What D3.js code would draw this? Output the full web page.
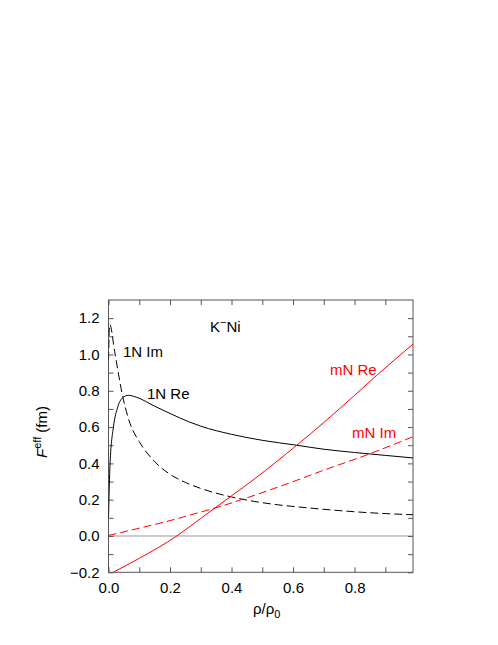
<!DOCTYPE html>
<html>
<head>
<meta charset="utf-8">
<script src="https://cdn.jsdelivr.net/npm/d3@7"></script>
<style>
  body { margin: 0; background: #fff; }
  #plot { width: 498px; height: 645px; }
  text { font-family: "Liberation Sans", Arial, Helvetica, sans-serif; }
</style>
</head>
<body>
<div id="plot"></div>
<script>
// curves (x = rho/rho0, y = F eff in fm)
const re1N_x = [0, 0.005, 0.016, 0.03, 0.045, 0.064, 0.09, 0.15, 0.2, 0.26, 0.3, 0.4, 0.5, 0.612, 0.7, 0.8, 0.9, 0.99];
const re1N_y = [0.10, 0.40, 0.60, 0.71, 0.76, 0.775, 0.765, 0.715, 0.675, 0.63, 0.605, 0.56, 0.527, 0.50, 0.478, 0.46, 0.444, 0.43];

const im1N_x = [0, 0.004, 0.021, 0.046, 0.07, 0.1, 0.15, 0.2, 0.25, 0.3, 0.4, 0.476, 0.55, 0.655, 0.75, 0.85, 0.99];
const im1N_y = [0.97, 1.165, 1.005, 0.77, 0.62, 0.52, 0.41, 0.34, 0.295, 0.262, 0.215, 0.19, 0.172, 0.154, 0.14, 0.128, 0.117];

const reMN_x = [0.015, 0.1, 0.222, 0.3, 0.395, 0.476, 0.612, 0.7, 0.8, 0.872, 0.99];
const reMN_y = [-0.2, -0.123, 0, 0.097, 0.215, 0.316, 0.50, 0.625, 0.775, 0.885, 1.057];

const imMN_x = [0, 0.1, 0.205, 0.3, 0.362, 0.476, 0.655, 0.688, 0.845, 0.99];
const imMN_y = [0.003, 0.043, 0.087, 0.132, 0.162, 0.225, 0.334, 0.355, 0.45, 0.547];

const xMajor = [0, 0.2, 0.4, 0.6, 0.8];
const xMinor = [0.1, 0.3, 0.5, 0.7, 0.9];
const yMajor = [-0.2, 0, 0.2, 0.4, 0.6, 0.8, 1.0, 1.2];
const yMinor = [-0.1, 0.1, 0.3, 0.5, 0.7, 0.9, 1.1];

// layout
const margin = {top: 300, left: 108.5},
    width = 304.5,
    height = 272.3;

const svg = d3.select("#plot")
    .append("svg")
    .attr("width", 498)
    .attr("height", 645)
    .append("g")
    .attr("transform", "translate(" + margin.left + "," + margin.top + ")");

const x = d3.scaleLinear().domain([0, 0.99]).range([0, width]);
const y = d3.scaleLinear().domain([-0.2, 1.3]).range([height, 0]);

svg.append("clipPath").attr("id", "clip")
    .append("rect").attr("width", width).attr("height", height);

// zero line
svg.append("line")
    .attr("x1", 0).attr("x2", width)
    .attr("y1", y(0)).attr("y2", y(0))
    .attr("stroke", "#999").attr("stroke-width", 1);

// axes, ticks pointing inward
const fmt = d3.format(".1f");
const tick = 5;

function styleAxis(g) {
    g.select(".domain").remove();
    g.selectAll(".tick line").attr("stroke", "#555");
    g.selectAll(".tick text")
        .attr("fill", "#000")
        .style("font-size", "15px");
}

svg.append("g").attr("transform", "translate(0," + height + ")")
    .call(d3.axisBottom(x).tickValues(xMajor).tickSize(-tick).tickPadding(10).tickFormat(fmt))
    .call(styleAxis);
svg.append("g").attr("transform", "translate(0," + height + ")")
    .call(d3.axisBottom(x).tickValues(xMinor).tickSize(-tick).tickFormat(""))
    .call(styleAxis);
svg.append("g")
    .call(d3.axisTop(x).tickValues(xMajor.concat(xMinor)).tickSize(-tick).tickFormat(""))
    .call(styleAxis);

svg.append("g")
    .call(d3.axisLeft(y).tickValues(yMajor).tickSize(-tick).tickPadding(9).tickFormat(fmt))
    .call(styleAxis);
svg.append("g")
    .call(d3.axisLeft(y).tickValues(yMinor).tickSize(-tick).tickFormat(""))
    .call(styleAxis);
svg.append("g").attr("transform", "translate(" + width + ",0)")
    .call(d3.axisRight(y).tickValues(yMajor.concat(yMinor)).tickSize(-tick).tickFormat(""))
    .call(styleAxis);

// frame
svg.append("rect")
    .attr("width", width).attr("height", height)
    .attr("fill", "none").attr("stroke", "#555").attr("stroke-width", 1);

// curves
const line = d3.line()
    .x(d => x(d[0]))
    .y(d => y(d[1]))
    .curve(d3.curveMonotoneX);

function addCurve(xs, ys, color, dash) {
    svg.append("path")
        .datum(d3.zip(xs, ys))
        .attr("clip-path", "url(#clip)")
        .attr("fill", "none")
        .attr("stroke", color)
        .attr("stroke-width", 1)
        .attr("stroke-dasharray", dash)
        .attr("d", line);
}

addCurve(re1N_x, re1N_y, "#000", null);
addCurve(im1N_x, im1N_y, "#000", "8,4");
addCurve(reMN_x, reMN_y, "#ff0000", null);
addCurve(imMN_x, imMN_y, "#ff0000", "8,4");

// curve labels (page coordinates)
const page = d3.select("#plot svg");

function label(px, py, txt, color) {
    page.append("text")
        .attr("x", px).attr("y", py)
        .attr("fill", color)
        .style("font-size", "15px")
        .text(txt);
}
label(123, 357, "1N Im", "#000");
label(147, 399, "1N Re", "#000");
label(330, 375, "mN Re", "#ff0000");
label(352, 438, "mN Im", "#ff0000");

const kn = page.append("text").attr("x", 210).attr("y", 332).style("font-size", "15px");
kn.append("tspan").text("K");
kn.append("tspan").attr("dy", -6).style("font-size", "11px").text("\u2212");
kn.append("tspan").attr("dy", 6).text("Ni");

// axis titles
const xl = page.append("text").attr("x", 253).attr("y", 614).style("font-size", "15px");
xl.append("tspan").text("\u03c1/\u03c1");
xl.append("tspan").attr("dy", 4).style("font-size", "11px").text("0");

const yl = page.append("text")
    .attr("transform", "translate(47,432) rotate(-90)")
    .attr("text-anchor", "middle")
    .style("font-size", "15px");
yl.append("tspan").style("font-style", "italic").text("F");
yl.append("tspan").attr("dy", -6).style("font-size", "11px").text("eff");
yl.append("tspan").attr("dy", 6).text(" (fm)");
</script>
</body>
</html>
